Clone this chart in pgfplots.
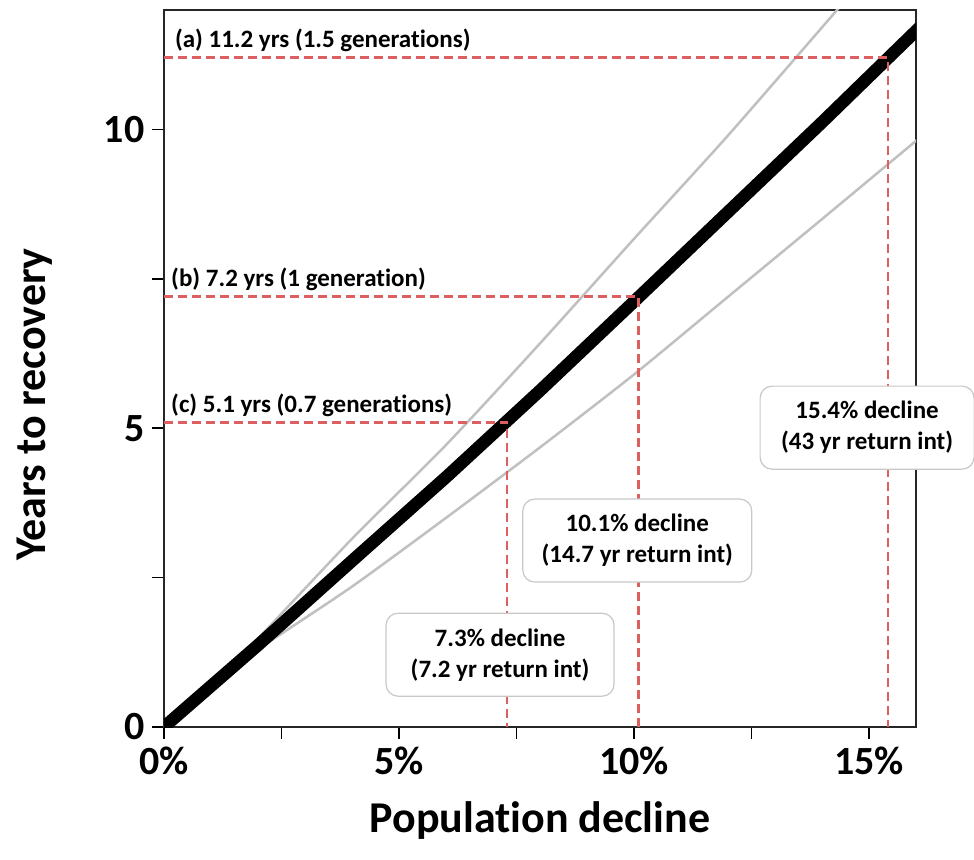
\documentclass[border=0pt]{standalone}
\usepackage{pgfplots}
\pgfplotsset{compat=1.18}
\usepackage{fontspec}
\setmainfont{Carlito}[Ligatures={NoCommon}]
\definecolor{redd}{RGB}{222,95,95}
\definecolor{grayl}{RGB}{192,192,192}
\definecolor{boxgray}{RGB}{200,200,200}
\begin{document}
\begin{tikzpicture}
\useasboundingbox (-164pt,-132pt) rectangle (810pt,727pt);
\begin{axis}[
  at={(0pt,0pt)}, anchor=south west,
  scale only axis, width=752pt, height=717pt,
  xmin=0, xmax=16, ymin=0, ymax=12,
  xtick={0,2.5,5,7.5,10,12.5,15},
  xticklabels={0\%,,5\%,,10\%,,15\%},
  ytick={0,2.5,5,7.5,10},
  yticklabels={0,,5,,10},
  tick align=outside,
  xtick pos=bottom, ytick pos=left,
  major tick length=12pt,
  tick style={black, line width=1.5pt},
  axis line style={line width=1.5pt, black!85},
  /pgf/number format/assume math mode=true,
  ticklabel style={font=\fontsize{40}{48}\selectfont\bfseries},
  xticklabel style={yshift=-4pt},
  yticklabel style={xshift=-4pt},
  xlabel={Population decline},
  ylabel={Years to recovery},
  xlabel style={font=\fontsize{44}{52}\selectfont\bfseries, at={(axis description cs:0.5,-0.13)}, anchor=center},
  ylabel style={font=\fontsize{44}{52}\selectfont\bfseries, at={(axis description cs:-0.172,0.45)}, anchor=center},
  clip=true, clip mode=individual,
]
% grey bounding curves
\addplot[grayl, line width=2.5pt, smooth, tension=0.4] coordinates {(0,0)(1.3,0.93)(2,1.48)(4,3.15)(6,4.72)(8,6.42)(10,8.17)(12,9.9)(14.32,12)(14.5,12.17)};
\addplot[grayl, line width=2.5pt, smooth, tension=0.4] coordinates {(0,0)(1.3,0.9)(2,1.3)(4,2.35)(6,3.5)(8,4.68)(10,5.9)(12,7.2)(14,8.5)(16,9.81)(16.2,9.94)};
% main curve
\addplot[black, line width=12.5pt] coordinates {(-0.2,-0.136)(0,0)(2,1.37)(4,2.78)(6,4.18)(8,5.63)(10,7.12)(12,8.62)(14,10.12)(16,11.65)(16.2,11.8)};
% red dashed guides
\addplot[redd, line width=2.6pt, dash pattern=on 9pt off 5pt] coordinates {(0,11.2)(15.4,11.2)(15.4,0)};
\addplot[redd, line width=2.6pt, dash pattern=on 9pt off 5pt] coordinates {(0,7.2)(10.1,7.2)(10.1,0)};
\addplot[redd, line width=2.6pt, dash pattern=on 9pt off 5pt] coordinates {(0,5.1)(7.3,5.1)(7.3,0)};
% labels
\node[anchor=base west, inner sep=0pt, font=\fontsize{25}{30}\selectfont\bfseries] at (axis cs:0.23,11.2) [yshift=10pt] {(a) 11.2 yrs (1.5 generations)};
\node[anchor=base west, inner sep=0pt, font=\fontsize{25}{30}\selectfont\bfseries] at (axis cs:0.15,7.2) [yshift=10pt] {(b) 7.2 yrs (1 generation)};
\node[anchor=base west, inner sep=0pt, font=\fontsize{25}{30}\selectfont\bfseries] at (axis cs:0.15,5.1) [yshift=10pt] {(c) 5.1 yrs (0.7 generations)};
% boxes
\node[draw=boxgray, line width=1.2pt, fill=white, rounded corners=12pt, align=center, inner sep=0pt, minimum width=228pt, minimum height=83pt, font=\fontsize{25}{31}\selectfont\bfseries] at (axis cs:7.15,1.21) {7.3\% decline\\(7.2 yr return int)};
\node[draw=boxgray, line width=1.2pt, fill=white, rounded corners=12pt, align=center, inner sep=0pt, minimum width=229pt, minimum height=83pt, font=\fontsize{25}{31}\selectfont\bfseries] at (axis cs:10.07,3.12) {10.1\% decline\\(14.7 yr return int)};
\node[draw=boxgray, line width=1.2pt, fill=white, rounded corners=12pt, align=center, inner sep=0pt, minimum width=214pt, minimum height=83pt, font=\fontsize{25}{31}\selectfont\bfseries] at (axis cs:14.96,5.01) {15.4\% decline\\(43 yr return int)};
\end{axis}
\end{tikzpicture}
\end{document}
